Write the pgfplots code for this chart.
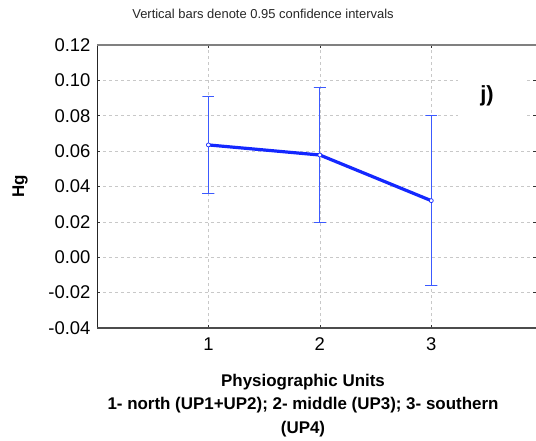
\documentclass[border=0pt]{standalone}
\usepackage{pgfplots}
\pgfplotsset{compat=1.18}
\usepackage{fontspec}
\setmainfont{Liberation Sans}
\definecolor{lineblue}{RGB}{20,40,255}
\definecolor{barblue}{RGB}{60,90,255}
\definecolor{gridgray}{RGB}{200,200,200}
\begin{document}
\begin{tikzpicture}
\begin{axis}[
    name=ax,
    scale only axis,
    width=439bp, height=283bp,
    xmin=0, xmax=3.94,
    ymin=-0.04, ymax=0.12,
    xtick={1,2,3},
    ytick={-0.04,-0.02,0,0.02,0.04,0.06,0.08,0.10,0.12},
    ticklabel style={font=\fontsize{18.5}{20}\selectfont},
    yticklabel style={xshift=-3bp, /pgf/number format/.cd, fixed, fixed zerofill, precision=2},
    /pgf/number format/assume math mode=true,
    xticklabel style={yshift=-6bp},
    tick align=inside,
    major tick length=3bp,
    tick style={black!80, line width=0.6bp},
    grid=major,
    grid style={dashed, gridgray, line width=0.5bp},
    axis line style={draw=none},
    clip=false,
    unbounded coords=jump,
]
% 0.95 confidence intervals (caps and bars) as one path
\addplot[color=barblue, draw=barblue, line width=0.8bp, mark=none, forget plot]
coordinates {
    (0.946,0.0359) (1.054,0.0359) (1,0.0359) (1,0.0911) (0.946,0.0911) (1.054,0.0911)
    (nan,nan)
    (1.946,0.0195) (2.054,0.0195) (2,0.0195) (2,0.0961) (1.946,0.0961) (2.054,0.0961)
    (nan,nan)
    (2.946,-0.0160) (3.054,-0.0160) (3,-0.0160) (3,0.0800) (2.946,0.0800) (3.054,0.0800)
};
% means
\addplot[color=lineblue, line width=3.2bp,
    mark=*, mark size=2bp, mark options={fill=white, draw=lineblue, line width=0.7bp}]
coordinates {
    (1,0.0635)
    (2,0.0578)
    (3,0.0320)
};
\fill[white] (axis cs:3.24,0.106) rectangle (axis cs:3.86,0.074);
\node[font=\bfseries\fontsize{22}{24}\selectfont] at (axis cs:3.5,0.0915) {j)};
\draw[black!85, line width=0.8bp] (rel axis cs:0,0) -- (rel axis cs:0,1);
\draw[black!70, line width=1.5bp] (rel axis cs:0,0) -- (rel axis cs:1,0);
\draw[black!50, line width=1.5bp] (rel axis cs:0,1) -- (rel axis cs:1,1);
\end{axis}
\node[anchor=base, font=\fontsize{13}{15}\selectfont, text=black!85]
    at ([xshift=166bp, yshift=26bp]ax.north west) {Vertical bars denote 0.95 confidence intervals};
\node[rotate=90, font=\bfseries\fontsize{17}{19}\selectfont]
    at ([xshift=-77bp, yshift=142bp]ax.south west) {Hg};
\node[anchor=base, align=center, font=\bfseries\fontsize{17}{23.5}\selectfont]
    at ([xshift=206bp, yshift=-105bp]ax.south west)
    {Physiographic Units\\1- north (UP1+UP2); 2- middle (UP3); 3- southern\\(UP4)};
\pgfresetboundingbox
\path[use as bounding box] ([xshift=-97bp, yshift=-113bp]ax.south west) rectangle ([xshift=439bp, yshift=45bp]ax.south west |- ax.north west);
\end{tikzpicture}
\end{document}
